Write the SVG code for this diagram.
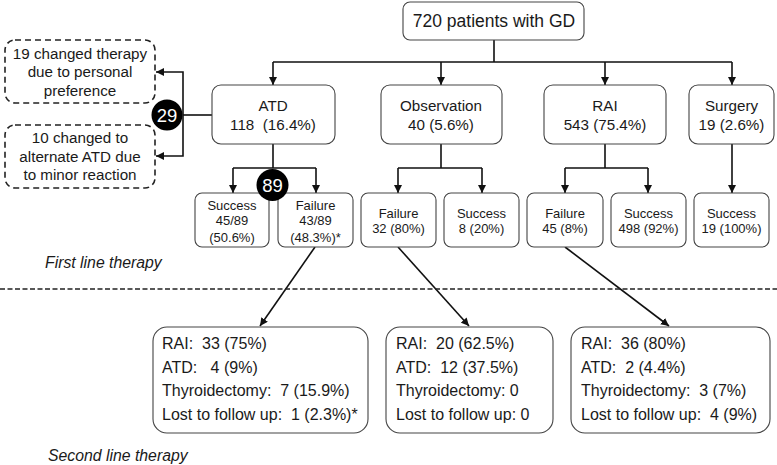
<svg xmlns="http://www.w3.org/2000/svg" width="777" height="465" viewBox="0 0 777 465">
<defs>
<marker id="ah" viewBox="0 0 10 10" refX="10" refY="5" markerWidth="8" markerHeight="8" markerUnits="userSpaceOnUse" orient="auto">
<path d="M0,0 L10,5 L0,10 z" fill="#111"/>
</marker>
<style>
.box{fill:#fff;stroke:#444;stroke-width:1.1}
.dbox{fill:#fff;stroke:#222;stroke-width:1.6;stroke-dasharray:6 4}
.t{font-family:"Liberation Sans",Arial,sans-serif;fill:#1a1a1a;text-anchor:middle}
.l{font-family:"Liberation Sans",Arial,sans-serif;fill:#1a1a1a;font-size:16px}
.c{fill:none;stroke:#111;stroke-width:1.6}
.ca{fill:none;stroke:#111;stroke-width:1.6;marker-end:url(#ah)}
.it{font-family:"Liberation Sans",Arial,sans-serif;fill:#1a1a1a;font-size:15.8px;font-style:italic}
.ct{font-family:"Liberation Sans",Arial,sans-serif;fill:#fff;font-size:18.5px;text-anchor:middle}
</style>
</defs>
<g id="connectors">
<path class="c" d="M494 40 V62 M273 62 H732"/>
<path class="ca" d="M273 62 V85"/>
<path class="ca" d="M441 62 V85"/>
<path class="ca" d="M605 62 V85"/>
<path class="ca" d="M732 62 V85"/>
<path class="c" d="M212 115 H183"/>
<path class="ca" d="M183 115 V72 H156"/>
<path class="ca" d="M183 115 V156 H156"/>
<path class="c" d="M273 144 V168 M233 168 H316"/>
<path class="ca" d="M233 168 V193"/>
<path class="ca" d="M316 168 V193"/>
<path class="c" d="M441 144 V168 M398 168 H482"/>
<path class="ca" d="M398 168 V193"/>
<path class="ca" d="M482 168 V193"/>
<path class="c" d="M605 144 V168 M565 168 H648"/>
<path class="ca" d="M565 168 V193"/>
<path class="ca" d="M648 168 V193"/>
<path class="ca" d="M732 144 V193"/>
<path class="ca" d="M315 247 L260 326"/>
<path class="ca" d="M398 247 L469 326"/>
<path class="ca" d="M565 247 L669 326"/>
</g>
<line x1="0" y1="289" x2="777" y2="289" stroke="#222" stroke-width="1.6" stroke-dasharray="5 2.5"/>
<g id="n_top"><rect class="box" x="403" y="2" width="181" height="38" rx="7"/><text class="t" x="494" y="27" font-size="17.5">720 patients with GD</text></g>
<g id="n_atd"><rect class="box" x="212" y="85" width="123" height="59" rx="9"/><text class="t" x="273" y="111" font-size="15.2">ATD</text><text class="t" x="273" y="130" font-size="15.2" xml:space="preserve">118  (16.4%)</text></g>
<g id="n_obs"><rect class="box" x="381" y="85" width="121" height="59" rx="9"/><text class="t" x="441" y="111" font-size="15.2">Observation</text><text class="t" x="441" y="130" font-size="15.2">40 (5.6%)</text></g>
<g id="n_rai"><rect class="box" x="544" y="85" width="122" height="59" rx="9"/><text class="t" x="605" y="111" font-size="15.2">RAI</text><text class="t" x="605" y="130" font-size="15.2">543 (75.4%)</text></g>
<g id="n_surg"><rect class="box" x="689" y="85" width="85" height="59" rx="9"/><text class="t" x="731.5" y="111" font-size="15.2">Surgery</text><text class="t" x="731.5" y="130" font-size="15.2">19 (2.6%)</text></g>
<g id="n_pref"><rect class="dbox" x="5" y="40" width="150" height="63" rx="10"/><text class="t" x="80" y="59" font-size="15.2">19 changed therapy</text><text class="t" x="80" y="77" font-size="15.2">due to personal</text><text class="t" x="80" y="96" font-size="15.2">preference</text></g>
<g id="n_minor"><rect class="dbox" x="5" y="125" width="150" height="63" rx="10"/><text class="t" x="80" y="143" font-size="15.2">10 changed to</text><text class="t" x="80" y="162" font-size="15.2">alternate ATD due</text><text class="t" x="80" y="180" font-size="15.2">to minor reaction</text></g>
<g id="c29"><circle cx="167" cy="115" r="15.5" fill="#000"/><text class="ct" x="167" y="121.5">29</text></g>
<g id="n_atd_s"><rect class="box" x="195" y="193" width="74" height="54" rx="7"/><text class="t" x="232" y="210" font-size="13">Success</text><text class="t" x="232" y="225" font-size="13">45/89</text><text class="t" x="232" y="242" font-size="13">(50.6%)</text></g>
<g id="n_atd_f"><rect class="box" x="278" y="193" width="75" height="54" rx="7"/><text class="t" x="315.5" y="210" font-size="13">Failure</text><text class="t" x="315.5" y="225" font-size="13">43/89</text><text class="t" x="315.5" y="242" font-size="13">(48.3%)*</text></g>
<g id="c89"><circle cx="272.5" cy="185" r="16" fill="#000"/><text class="ct" x="272.5" y="191.5">89</text></g>
<g id="n_obs_f"><rect class="box" x="361" y="193" width="75" height="54" rx="7"/><text class="t" x="398.5" y="218" font-size="13">Failure</text><text class="t" x="398.5" y="233" font-size="13">32 (80%)</text></g>
<g id="n_obs_s"><rect class="box" x="444" y="193" width="75" height="54" rx="7"/><text class="t" x="481.5" y="218" font-size="13">Success</text><text class="t" x="481.5" y="233" font-size="13">8 (20%)</text></g>
<g id="n_rai_f"><rect class="box" x="527" y="193" width="76" height="54" rx="7"/><text class="t" x="565" y="218" font-size="13">Failure</text><text class="t" x="565" y="233" font-size="13">45 (8%)</text></g>
<g id="n_rai_s"><rect class="box" x="611" y="193" width="75" height="54" rx="7"/><text class="t" x="648.5" y="218" font-size="13">Success</text><text class="t" x="648.5" y="233" font-size="13">498 (92%)</text></g>
<g id="n_surg_s"><rect class="box" x="694" y="193" width="75" height="54" rx="7"/><text class="t" x="731.5" y="218" font-size="13">Success</text><text class="t" x="731.5" y="233" font-size="13">19 (100%)</text></g>
<text class="it" x="45" y="268">First line therapy</text>
<g id="n_2a"><rect class="box" x="153" y="327" width="215" height="106" rx="14"/>
<text class="l" x="162" y="349" xml:space="preserve">RAI:  33 (75%)</text>
<text class="l" x="162" y="373" xml:space="preserve">ATD:   4 (9%)</text>
<text class="l" x="162" y="396" xml:space="preserve">Thyroidectomy:  7 (15.9%)</text>
<text class="l" x="162" y="420" xml:space="preserve">Lost to follow up:  1 (2.3%)*</text></g>
<g id="n_2b"><rect class="box" x="386" y="327" width="167" height="106" rx="14"/>
<text class="l" x="396" y="349" xml:space="preserve">RAI:  20 (62.5%)</text>
<text class="l" x="396" y="373" xml:space="preserve">ATD:  12 (37.5%)</text>
<text class="l" x="396" y="396">Thyroidectomy: 0</text>
<text class="l" x="396" y="420">Lost to follow up: 0</text></g>
<g id="n_2c"><rect class="box" x="571" y="327" width="199" height="106" rx="14"/>
<text class="l" x="581" y="349" xml:space="preserve">RAI:  36 (80%)</text>
<text class="l" x="581" y="373" xml:space="preserve">ATD:  2 (4.4%)</text>
<text class="l" x="581" y="396" xml:space="preserve">Thyroidectomy:  3 (7%)</text>
<text class="l" x="581" y="420" xml:space="preserve">Lost to follow up:  4 (9%)</text></g>
<text class="it" x="48" y="461">Second line therapy</text>
</svg>
